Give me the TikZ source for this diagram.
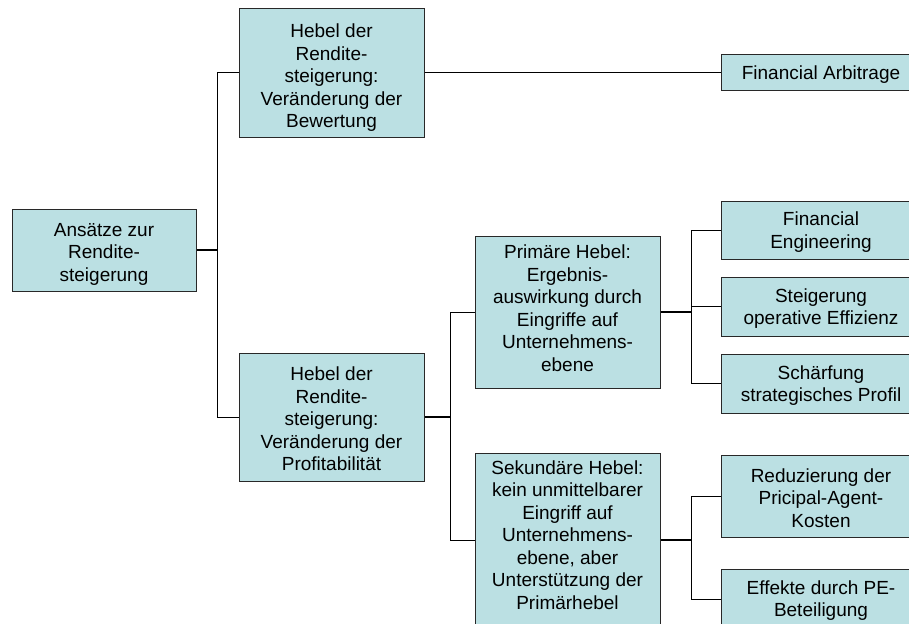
\documentclass[tikz,border=0pt]{standalone}
\usepackage{fontspec}
\setmainfont{Liberation Sans}
\definecolor{boxfill}{RGB}{187,224,227}
\definecolor{boxline}{RGB}{40,40,40}
\begin{document}
\begin{tikzpicture}[x=1pt,y=-1pt,
  box/.style={draw=boxline,line width=1pt,fill=boxfill,inner sep=0pt},
  txt/.style={align=center,inner sep=0pt,font=\fontsize{19}{22.5}\selectfont},
  conn/.style={draw=black,line width=1pt},
  stem/.style={draw=black,line width=1.6pt}]
\useasboundingbox (0,0) rectangle (909,623);
\clip (0,0) rectangle (909,623);
\fill[white] (0,0) rectangle (909,623);
\node[box,minimum width=184pt,minimum height=82pt,
  label={[txt,yshift=-4pt]center:{Ansätze zur\\Rendite-\\steigerung}}] (root) at (104,250) {};
\node[box,minimum width=185pt,minimum height=128pt,
  label={[txt,yshift=-5pt]center:{Hebel der\\Rendite-\\steigerung:\\Veränderung der\\Bewertung}}] (bew) at (331.5,73) {};
\node[box,minimum width=185pt,minimum height=128pt,
  label={[txt,yshift=-2pt]center:{Hebel der\\Rendite-\\steigerung:\\Veränderung der\\Profitabilität}}] (prof) at (331.5,417) {};
\node[box,minimum width=200pt,minimum height=36pt,
  label={[txt,yshift=-2pt]center:{Financial Arbitrage}}] (fa) at (821,73) {};
\node[box,minimum width=185pt,minimum height=152pt,
  label={[txt,yshift=4pt]center:{Primäre Hebel:\\Ergebnis-\\auswirkung durch\\Eingriffe auf\\Unternehmens-\\ebene}}] (prim) at (567.5,312) {};
\node[box,minimum width=185pt,minimum height=174pt,
  label={[txt,yshift=5pt]center:{Sekundäre Hebel:\\kein unmittelbarer\\Eingriff auf\\Unternehmens-\\ebene, aber\\Unterstützung der\\Primärhebel}}] (sek) at (567.5,540) {};
\node[box,minimum width=200pt,minimum height=58pt,
  label={[txt,yshift=-2pt]center:{Financial\\Engineering}}] (fe) at (821,230) {};
\node[box,minimum width=200pt,minimum height=59pt,
  label={[txt,yshift=-2pt]center:{Steigerung\\operative Effizienz}}] (se) at (821,306.5) {};
\node[box,minimum width=200pt,minimum height=59pt,
  label={[txt,yshift=-2pt]center:{Schärfung\\strategisches Profil}}] (sp) at (821,383.5) {};
\node[box,minimum width=200pt,minimum height=82pt,
  label={[txt,yshift=-2pt]center:{Reduzierung der\\Pricipal-Agent-\\Kosten}}] (red) at (821,496) {};
\node[box,minimum width=200pt,minimum height=61pt,
  label={[txt,yshift=-1pt]center:{Effekte durch PE-\\Beteiligung}}] (eff) at (821,599.5) {};
% connectors
\draw[stem] (root.east) -- ++(21,0) coordinate (b1);
\draw[conn] (b1) |- (bew.west);
\draw[conn] (b1) |- (prof.west);
\draw[conn] (bew.east) -- (fa.west);
\draw[stem] (prof.east) -- ++(26,0) coordinate (b2);
\draw[conn] (b2) |- (prim.west);
\draw[conn] (b2) |- (sek.west);
\draw[stem] (prim.east) -- ++(31,0) coordinate (b3);
\draw[conn] (b3) |- (fe.west);
\draw[conn] (b3) |- (se.west);
\draw[conn] (b3) |- (sp.west);
\draw[stem] (sek.east) -- ++(31,0) coordinate (b4);
\draw[conn] (b4) |- (red.west);
\draw[conn] (b4) |- (eff.west);
\end{tikzpicture}
\end{document}
